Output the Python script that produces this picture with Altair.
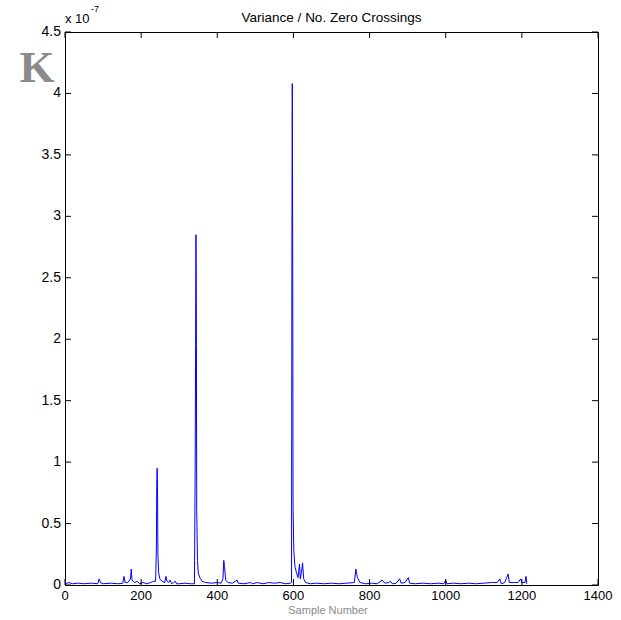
import altair as alt
import pandas as pd

# Sample index and value (units of 1e-7) at the visible vertices of the trace
sample = [0, 3, 10, 20, 35, 50, 70, 86, 90, 93, 100, 120, 140, 152, 155, 158, 165, 172, 174, 176,
          182, 190, 196, 205, 215, 225, 232, 238, 240, 241, 242, 243, 244, 246, 249, 255, 262, 265,
          268, 272, 276, 280, 285, 290, 293, 300, 315, 330, 340, 342, 343, 344, 345, 346, 348, 350,
          354, 360, 370, 385, 400, 410, 415, 417, 419, 422, 428, 440, 452, 455, 470, 488, 492, 505,
          520, 535, 550, 565, 580, 592, 595, 596, 597, 598, 599, 601, 604, 608, 612, 616, 618, 621,
          624, 627, 632, 645, 660, 680, 700, 720, 740, 760, 764, 768, 775, 790, 805, 820, 833, 840,
          850, 855, 860, 870, 879, 883, 893, 902, 905, 920, 940, 960, 980, 995, 1000, 1003, 1020,
          1040, 1060, 1080, 1100, 1120, 1135, 1142, 1146, 1155, 1164, 1167, 1180, 1190, 1197, 1200,
          1208, 1211, 1213]
value = [0.03, 0.01, 0.02, 0.01, 0.015, 0.01, 0.015, 0.01, 0.05, 0.02, 0.01, 0.015, 0.01, 0.015,
         0.07, 0.02, 0.02, 0.05, 0.13, 0.04, 0.02, 0.03, 0.01, 0.02, 0.01, 0.02, 0.03, 0.03, 0.3,
         0.8, 0.95, 0.8, 0.25, 0.1, 0.05, 0.03, 0.02, 0.07, 0.03, 0.02, 0.04, 0.01, 0.02, 0.03, 0.01,
         0.01, 0.015, 0.01, 0.01, 1.0, 1.95, 2.85, 2.22, 0.6, 0.2, 0.1, 0.06, 0.03, 0.02, 0.015,
         0.02, 0.015, 0.05, 0.2, 0.15, 0.04, 0.02, 0.015, 0.04, 0.015, 0.01, 0.02, 0.01, 0.02, 0.01,
         0.02, 0.015, 0.02, 0.01, 0.015, 0.02, 2.67, 4.08, 2.86, 0.63, 0.28, 0.15, 0.1, 0.06, 0.17,
         0.05, 0.1, 0.18, 0.05, 0.02, 0.01, 0.015, 0.01, 0.015, 0.01, 0.015, 0.02, 0.13, 0.06, 0.02,
         0.01, 0.015, 0.01, 0.04, 0.015, 0.02, 0.03, 0.01, 0.015, 0.05, 0.015, 0.02, 0.06, 0.015,
         0.01, 0.015, 0.01, 0.015, 0.01, 0.04, 0.01, 0.015, 0.01, 0.015, 0.01, 0.015, 0.02, 0.02,
         0.05, 0.01, 0.02, 0.09, 0.02, 0.02, 0.02, 0.05, 0.02, 0.02, 0.07, 0.01]

x_ticks = [0, 200, 400, 600, 800, 1000, 1200, 1400]
y_ticks = [0, 0.5, 1, 1.5, 2, 2.5, 3, 3.5, 4, 4.5]
y_tick_labels = ["0", "0.5", "1", "1.5", "2", "2.5", "3", "3.5", "4", "4.5"]

W, H = 533, 553
FONT = "Liberation Sans, Arial, Helvetica"

df = pd.DataFrame({"sample": sample, "value": value})
xt = pd.DataFrame({"t": x_ticks, "lab": [str(v) for v in x_ticks]})
yt = pd.DataFrame({"t": y_ticks, "lab": y_tick_labels})

xscale = alt.Scale(domain=[0, 1400], nice=False, zero=False)
yscale = alt.Scale(domain=[0, 4.5], nice=False, zero=False)

line = alt.Chart(df).mark_line(color="#0000ff", strokeWidth=1, clip=True).encode(
    x=alt.X("sample:Q", scale=xscale, axis=None),
    y=alt.Y("value:Q", scale=yscale, axis=None),
)

tb = alt.Chart(xt).mark_rule(color="black", strokeWidth=1).encode(
    x=alt.X("t:Q", scale=xscale, axis=None), y=alt.value(H), y2=alt.value(H - 6))
tt = alt.Chart(xt).mark_rule(color="black", strokeWidth=1).encode(
    x=alt.X("t:Q", scale=xscale, axis=None), y=alt.value(0), y2=alt.value(6))
tl = alt.Chart(yt).mark_rule(color="black", strokeWidth=1).encode(
    y=alt.Y("t:Q", scale=yscale, axis=None), x=alt.value(0), x2=alt.value(6))
tr = alt.Chart(yt).mark_rule(color="black", strokeWidth=1).encode(
    y=alt.Y("t:Q", scale=yscale, axis=None), x=alt.value(W), x2=alt.value(W - 6))

xlab = alt.Chart(xt).mark_text(
    font=FONT, fontSize=13, color="black", align="center", baseline="top"
).encode(x=alt.X("t:Q", scale=xscale, axis=None), y=alt.value(H + 5), text="lab:N")
ylab = alt.Chart(yt).mark_text(
    font=FONT, fontSize=14, color="black", align="right", baseline="middle"
).encode(y=alt.Y("t:Q", scale=yscale, axis=None), x=alt.value(-4), text="lab:N")

title = alt.Chart(pd.DataFrame({"s": ["Variance / No. Zero Crossings"]})).mark_text(
    font=FONT, fontSize=13.5, color="black", align="center", baseline="middle"
).encode(text="s:N", x=alt.value(W / 2), y=alt.value(-14))

xlabel = alt.Chart(pd.DataFrame({"s": ["Sample Number"]})).mark_text(
    font=FONT, fontSize=11, color="#8a8a8a", align="center", baseline="middle"
).encode(text="s:N", x=alt.value(263), y=alt.value(H + 26))

exp_base = alt.Chart(pd.DataFrame({"s": ["x 10"]})).mark_text(
    font=FONT, fontSize=13, color="black", align="left", baseline="alphabetic"
).encode(text="s:N", x=alt.value(0), y=alt.value(-9))
exp_pow = alt.Chart(pd.DataFrame({"s": ["-7"]})).mark_text(
    font=FONT, fontSize=9, color="black", align="left", baseline="alphabetic"
).encode(text="s:N", x=alt.value(26), y=alt.value(-20))

kmark = alt.Chart(pd.DataFrame({"s": ["K"]})).mark_text(
    font="Liberation Serif, DejaVu Serif", fontSize=45, fontWeight="bold", color="#8a8a8a",
    align="center", baseline="alphabetic"
).encode(text="s:N", x=alt.value(-28), y=alt.value(50))

chart = alt.layer(line, tb, tt, tl, tr, xlab, ylab, title, xlabel, exp_base, exp_pow, kmark).properties(
    width=W, height=H,
    autosize=alt.AutoSizeParams(type="none"),
    padding={"left": 65, "top": 32, "right": 23, "bottom": 35},
    background="white",
).configure_view(stroke="black", strokeWidth=1)

chart.save("out.html", embed_options={"renderer": "svg", "actions": False})
